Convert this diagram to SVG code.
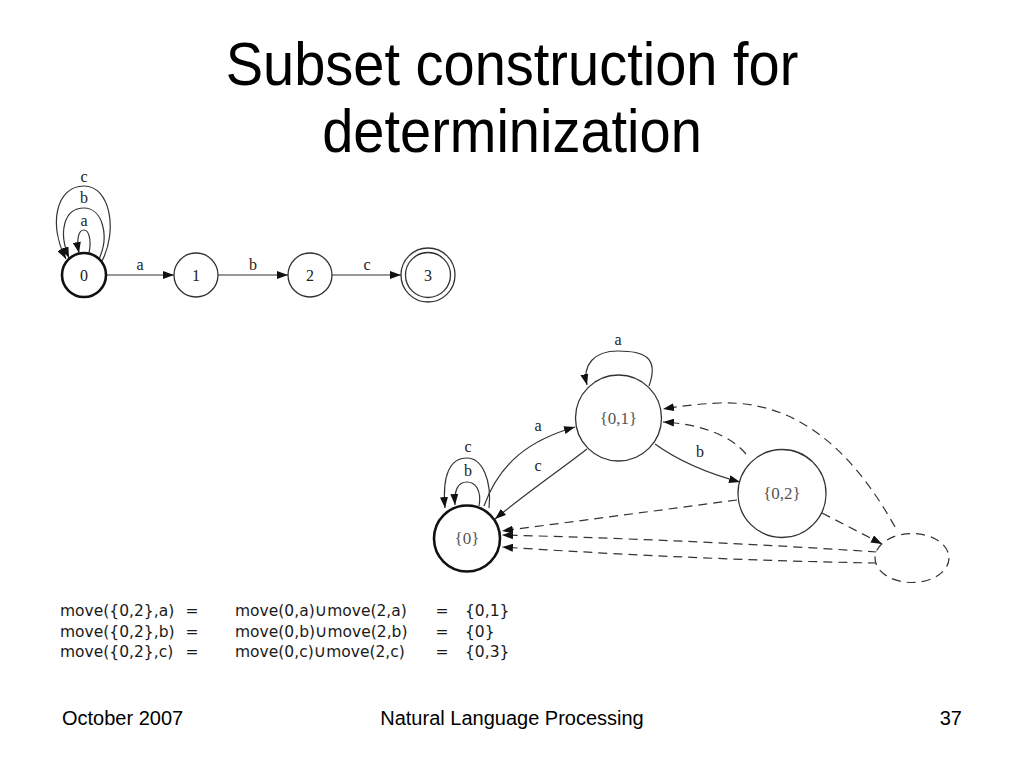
<svg xmlns="http://www.w3.org/2000/svg" width="1024" height="768" viewBox="0 0 1024 768">
<defs>
<style>
.title{font-family:"Liberation Sans",Arial,sans-serif;font-size:56px;fill:#000;text-anchor:middle}
.foot{font-family:"Liberation Sans",Arial,sans-serif;font-size:20px;fill:#000}
.tbl{font-family:"DejaVu Sans","Liberation Sans",sans-serif;font-size:15.5px;fill:#1a1a1a}
.cup{font-size:17px}
.lbl{font-family:"Liberation Serif","Times New Roman",serif;font-size:16px;fill:#222;text-anchor:middle}
.nlbl{font-family:"Liberation Serif","Times New Roman",serif;font-size:17px;fill:#555;text-anchor:middle}
.node{fill:#fff;stroke:#333;stroke-width:1.3}
.start{fill:#fff;stroke:#111;stroke-width:2.6}
.edge{fill:none;stroke:#333;stroke-width:1.2}
.dash{fill:none;stroke:#333;stroke-width:1.2;stroke-dasharray:9,6}
</style>
<marker id="arr" markerUnits="userSpaceOnUse" markerWidth="11" markerHeight="8" refX="11" refY="4" orient="auto">
<path d="M0,0 L11,4 L0,8 z" fill="#111"/>
</marker>
</defs>

<text class="title" transform="translate(512,85) scale(1,1.08)">Subset construction for</text>
<text class="title" transform="translate(512,152) scale(1,1.08)">determinization</text>

<g id="connectors">
<!-- NFA -->
<path class="edge" d="M89 253 C92 238 88 230 84 230 C79 230 76 238 79 253" marker-end="url(#arr)"/>
<path class="edge" d="M99 259 C110 235 102 208 84 208 C64 208 58 232 69 258" marker-end="url(#arr)"/>
<path class="edge" d="M102 261 C118 230 110 186 84 186 C56 186 48 225 66 259" marker-end="url(#arr)"/>
<path class="edge" d="M106 275 L174 275" marker-end="url(#arr)"/>
<path class="edge" d="M218 275 L288 275" marker-end="url(#arr)"/>
<path class="edge" d="M332 275 L401 275" marker-end="url(#arr)"/>
<!-- DFA solid -->
<path class="edge" d="M649 386 C660 356 642 351 618 351 C594 351 582 365 587 385" marker-end="url(#arr)"/>
<path class="edge" d="M479 506 C482 490 475 482 467 482 C458 482 454 490 455 505" marker-end="url(#arr)"/>
<path class="edge" d="M489 508 C492 480 482 458 467 458 C450 458 442 475 445 508" marker-end="url(#arr)"/>
<path class="edge" d="M484 506 C500 462 530 440 575 427" marker-end="url(#arr)"/>
<path class="edge" d="M587 449 C560 470 525 494 495 519" marker-end="url(#arr)"/>
<path class="edge" d="M655 444 C680 462 710 474 740 482" marker-end="url(#arr)"/>
<!-- DFA dashed -->
<path class="dash" d="M746 454 C730 435 700 424 663 422" marker-end="url(#arr)"/>
<path class="dash" d="M895 527 C855 455 800 400 720 403 C695 404 675 407 663 409" marker-end="url(#arr)"/>
<path class="dash" d="M737 500 L502 531" marker-end="url(#arr)"/>
<path class="dash" d="M822 513 L882 544" marker-end="url(#arr)"/>
<path class="dash" d="M877 552 Q700 540 502 535" marker-end="url(#arr)"/>
<path class="dash" d="M877 563 Q700 560 502 547" marker-end="url(#arr)"/>
<!-- edge labels -->
<text class="lbl" x="84" y="226">a</text>
<text class="lbl" x="84" y="203">b</text>
<text class="lbl" x="84" y="182">c</text>
<text class="lbl" x="140" y="270">a</text>
<text class="lbl" x="253" y="270">b</text>
<text class="lbl" x="367" y="270">c</text>
<text class="lbl" x="618" y="345">a</text>
<text class="lbl" x="468" y="476">b</text>
<text class="lbl" x="468" y="452">c</text>
<text class="lbl" x="538" y="431">a</text>
<text class="lbl" x="538" y="471">c</text>
<text class="lbl" x="700" y="457">b</text>
</g>

<g id="n0"><circle class="start" cx="84" cy="275" r="22"/><text class="lbl" x="84" y="281">0</text></g>
<g id="n1"><circle class="node" cx="196" cy="275" r="22"/><text class="lbl" x="196" y="281">1</text></g>
<g id="n2"><circle class="node" cx="310" cy="275" r="22"/><text class="lbl" x="310" y="281">2</text></g>
<g id="n3"><circle class="node" cx="428" cy="275" r="27"/><circle class="node" cx="428" cy="275" r="22.5"/><text class="lbl" x="428" y="281">3</text></g>

<g id="d0"><circle class="start" cx="467" cy="538.5" r="33"/><text class="nlbl" x="467" y="544">{0}</text></g>
<g id="d01"><circle class="node" cx="618.5" cy="418" r="43"/><text class="nlbl" x="618.5" y="424">{0,1}</text></g>
<g id="d02"><circle class="node" cx="782" cy="493.5" r="44"/><text class="nlbl" x="782" y="499">{0,2}</text></g>
<g id="dead"><ellipse cx="912" cy="558" rx="37" ry="24.5" fill="#fff" stroke="#333" stroke-width="1.2" stroke-dasharray="9,6"/></g>

<g id="table">
<text class="tbl" x="60" y="616">move({0,2},a)</text>
<text class="tbl" x="192" y="616" text-anchor="middle">=</text>
<text class="tbl" x="235" y="616">move(0,a)<tspan class="cup">∪</tspan>move(2,a)</text>
<text class="tbl" x="442" y="616" text-anchor="middle">=</text>
<text class="tbl" x="465" y="616">{0,1}</text>
<text class="tbl" x="60" y="637">move({0,2},b)</text>
<text class="tbl" x="192" y="637" text-anchor="middle">=</text>
<text class="tbl" x="235" y="637">move(0,b)<tspan class="cup">∪</tspan>move(2,b)</text>
<text class="tbl" x="442" y="637" text-anchor="middle">=</text>
<text class="tbl" x="465" y="637">{0}</text>
<text class="tbl" x="60" y="657">move({0,2},c)</text>
<text class="tbl" x="192" y="657" text-anchor="middle">=</text>
<text class="tbl" x="235" y="657">move(0,c)<tspan class="cup">∪</tspan>move(2,c)</text>
<text class="tbl" x="442" y="657" text-anchor="middle">=</text>
<text class="tbl" x="465" y="657">{0,3}</text>
</g>

<text class="foot" x="62" y="725">October 2007</text>
<text class="foot" x="512" y="725" text-anchor="middle">Natural Language Processing</text>
<text class="foot" x="962" y="725" text-anchor="end">37</text>
</svg>
